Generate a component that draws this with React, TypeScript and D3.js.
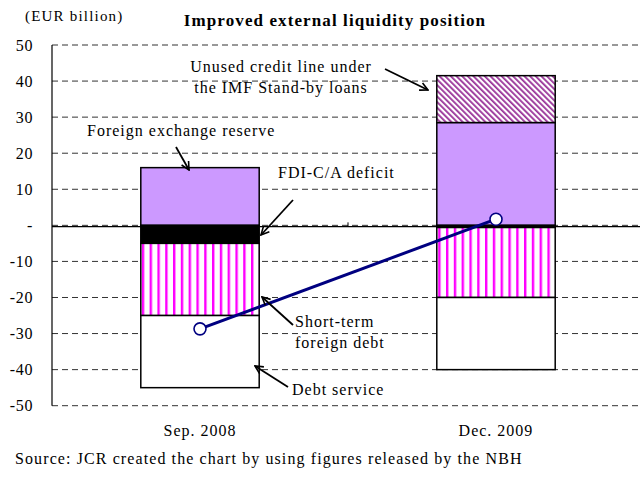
import React from 'react';
import * as d3 from 'd3';

// (EUR billion)
const categories = ['Sep. 2008', 'Dec. 2009'];
const fxReserve = [16, 28.5];
const imfCreditLine = [0, 13];
const fdiCaDeficit = [-5, -0.6];
const shortTermDebt = [-20, -19.4];
const debtService = [-20, -20];
const netPosition = [-28.7, 1.7];
const yTicks = [50, 40, 30, 20, 10, 0, -10, -20, -30, -40, -50];

const W = 640;
const H = 483;
const font = "'Liberation Serif', 'Times New Roman', serif";

const keys = ['fx', 'imf', 'fdi', 'short', 'debt'];
const fills: Record<string, string> = {
  fx: '#CC99FF',
  imf: 'url(#hatch)',
  fdi: '#000000',
  short: 'url(#stripes)',
  debt: '#FFFFFF',
};

// annotation labels with arrows (pixel layout)
const notes = [
  { lines: ['Foreign exchange reserve'], tx: 87, ty: 136, anchor: 'start', from: [176, 147], to: [189, 170] },
  { lines: ['FDI-C/A deficit'], tx: 278, ty: 178, anchor: 'start', from: [293, 200], to: [261, 235] },
  { lines: ['Unused credit line under', 'the IMF Stand-by loans'], tx: 281, ty: 72, anchor: 'middle', from: [385, 69], to: [428, 90] },
  { lines: ['Short-term', 'foreign debt'], tx: 295, ty: 327, anchor: 'start', from: [293, 325], to: [262, 297] },
  { lines: ['Debt service'], tx: 292, ty: 395, anchor: 'start', from: [288, 387], to: [255, 366] },
];

export default function App() {
  const left = 52, right = 644, top = 45, bottom = 405.7;

  const x = d3.scaleBand().domain(categories).range([left, right]).paddingInner(0.6).paddingOuter(0.3);
  const y = d3.scaleLinear().domain([-50, 50]).range([bottom, top]);

  const rows = categories.map((c, i) => ({
    cat: c,
    fx: fxReserve[i],
    imf: imfCreditLine[i],
    fdi: fdiCaDeficit[i],
    short: shortTermDebt[i],
    debt: debtService[i],
  }));
  const series = d3.stack<any>().keys(keys).offset(d3.stackOffsetDiverging)(rows);

  const line = d3.line<number>()
    .x((_, i) => x(categories[i])! + x.bandwidth() / 2)
    .y(d => y(d));

  const midTick = (x(categories[0])! + x.bandwidth() + x(categories[1])!) / 2;

  return (
    <div style={{ position: 'absolute', left: 0, top: 0 }}>
      <svg width={W} height={H} style={{ display: 'block', background: '#fff', fontFamily: font }}>
        <defs>
          <pattern id="stripes" patternUnits="userSpaceOnUse" width={7.8} height={10} x={x(categories[0])! + 1}>
            <rect width={7.8} height={10} fill="#fff" />
            <rect width={2.4} height={10} fill="#FF00FF" />
          </pattern>
          <pattern id="hatch" patternUnits="userSpaceOnUse" width={4} height={4} patternTransform="rotate(-45)">
            <rect width={4} height={4} fill="#fff" />
            <rect width={1.8} height={4} fill="#993399" />
          </pattern>
          <marker id="arrow" viewBox="0 0 10 10" refX={9} refY={5} markerWidth={10} markerHeight={10}
            markerUnits="userSpaceOnUse" orient="auto">
            <path d="M1,1 L9,5 L1,9" fill="none" stroke="#000" strokeWidth={1.6} />
          </marker>
        </defs>

        <text x={25} y={21} fontSize={15} letterSpacing={1.2}>(EUR billion)</text>
        <text x={335} y={26} fontSize={17} fontWeight="bold" textAnchor="middle" letterSpacing={1.1}>
          Improved external liquidity position
        </text>

        {/* grid */}
        {yTicks.map(t => (
          <line key={t} x1={left} x2={W} y1={y(t)} y2={y(t)} stroke="#333" strokeWidth={1}
            strokeDasharray="6,4" />
        ))}
        <line x1={left} x2={left} y1={top} y2={bottom} stroke="#000" strokeWidth={1.2} />

        {yTicks.map(t => (
          <text key={t} x={33} y={y(t)} dy="0.35em" fontSize={16} textAnchor="end" letterSpacing={0.6}>
            {t === 0 ? '-' : t}
          </text>
        ))}

        {/* bars */}
        {series.map(s => (
          <g key={s.key}>
            {s.map((d, i) => (d[1] - d[0] === 0 ? null : (
              <rect key={i} x={x(categories[i])} width={x.bandwidth()}
                y={y(d[1])} height={y(d[0]) - y(d[1])}
                fill={fills[s.key]} stroke="#000" strokeWidth={1.5} />
            )))}
          </g>
        ))}

        {/* zero axis */}
        <line x1={left} x2={W} y1={y(0) + 1.3} y2={y(0) + 1.3} stroke="#000" strokeWidth={1.2} />
        <line x1={midTick} x2={midTick} y1={y(0) - 3} y2={y(0) + 1} stroke="#000" strokeWidth={1} />

        {/* net position line */}
        <path d={line(netPosition)!} fill="none" stroke="#000080" strokeWidth={3} />
        {netPosition.map((v, i) => (
          <circle key={i} cx={x(categories[i])! + x.bandwidth() / 2} cy={y(v)} r={6}
            fill="#fff" stroke="#000080" strokeWidth={1.6} />
        ))}

        {/* annotations */}
        {notes.map((n, i) => (
          <g key={i}>
            <line x1={n.from[0]} y1={n.from[1]} x2={n.to[0]} y2={n.to[1]} stroke="#000" strokeWidth={1.8}
              markerEnd="url(#arrow)" />
            {n.lines.map((l, j) => (
              <text key={j} x={n.tx} y={n.ty + j * 21} fontSize={16} textAnchor={n.anchor as any}
                letterSpacing={1}>
                {l}
              </text>
            ))}
          </g>
        ))}

        {/* category labels */}
        {categories.map(c => (
          <text key={c} x={x(c)! + x.bandwidth() / 2} y={436} fontSize={16} textAnchor="middle" letterSpacing={1}>
            {c}
          </text>
        ))}

        <text x={15} y={464} fontSize={16} letterSpacing={1.1}>
          Source: JCR created the chart by using figures released by the NBH
        </text>
      </svg>
    </div>
  );
}
